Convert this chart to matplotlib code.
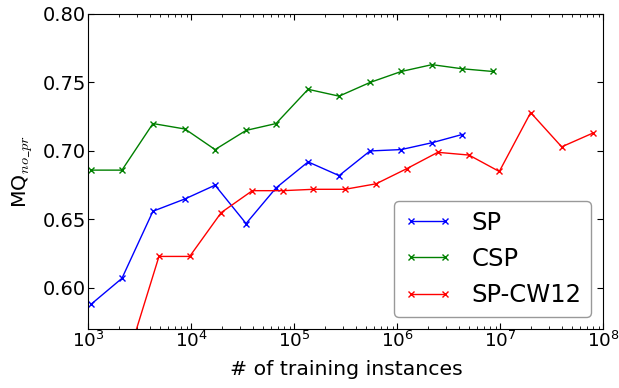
import matplotlib
matplotlib.use('Agg')
import matplotlib.pyplot as plt

# training set sizes
sp_x = [1060, 2120, 4240, 8690, 17000, 34000, 66400, 136000, 272000,
        543000, 1090000, 2170000, 4250000]
sp_y = [0.588, 0.607, 0.656, 0.665, 0.675, 0.647, 0.673, 0.692, 0.682,
        0.700, 0.701, 0.706, 0.712]

csp_x = [1060, 2120, 4240, 8690, 17000, 34000, 66400, 136000, 272000,
         543000, 1090000, 2170000, 4250000, 8500000]
csp_y = [0.686, 0.686, 0.720, 0.716, 0.701, 0.715, 0.720, 0.745, 0.740,
         0.750, 0.758, 0.763, 0.760, 0.758]

cw_x = [1215, 2430, 4850, 9640, 19500, 39100, 77100, 153000, 310000, 621000,
        1230000, 2470000, 4960000, 9770000, 19700000, 39400000, 78900000]
cw_y = [0.530, 0.550, 0.623, 0.623, 0.655, 0.671, 0.671, 0.672, 0.672, 0.676,
        0.687, 0.699, 0.697, 0.685, 0.728, 0.703, 0.713]

plt.rcParams['mathtext.fontset'] = 'cm'
plt.rcParams['xtick.direction'] = 'in'
plt.rcParams['ytick.direction'] = 'in'
plt.rcParams['xtick.top'] = True
plt.rcParams['ytick.right'] = True

fig = plt.figure(figsize=(6.19, 3.88), dpi=100)
ax = fig.add_axes([0.1427, 0.152, 0.832, 0.812])

ax.plot(sp_x, sp_y, 'b-x', lw=1, ms=5, mew=1, label='SP')
ax.plot(csp_x, csp_y, 'g-x', lw=1, ms=5, mew=1, label='CSP')
ax.plot(cw_x, cw_y, 'r-x', lw=1, ms=5, mew=1, label='SP-CW12')

ax.set_xscale('log')
ax.set_xlim(1e3, 1e8)
ax.set_ylim(0.57, 0.80)
ax.set_yticks([0.60, 0.65, 0.70, 0.75, 0.80])
ax.set_yticklabels(['0.60', '0.65', '0.70', '0.75', '0.80'])
ax.tick_params(which='major', length=4, width=0.8, labelsize=14, pad=1.5)
ax.tick_params(axis='x', which='major', labelsize=13.2)
ax.tick_params(which='minor', length=2, width=0.6)

ax.set_xlabel('# of training instances', fontsize=14.7, labelpad=6)
ax.set_ylabel(r'MQ$_{no\_pr}$', fontsize=14.7, labelpad=6)

leg = ax.legend(loc='lower right', fontsize=17.5, numpoints=2, fancybox=True)
leg.get_frame().set_edgecolor('0.5')

fig.savefig('out.png', dpi=100)
